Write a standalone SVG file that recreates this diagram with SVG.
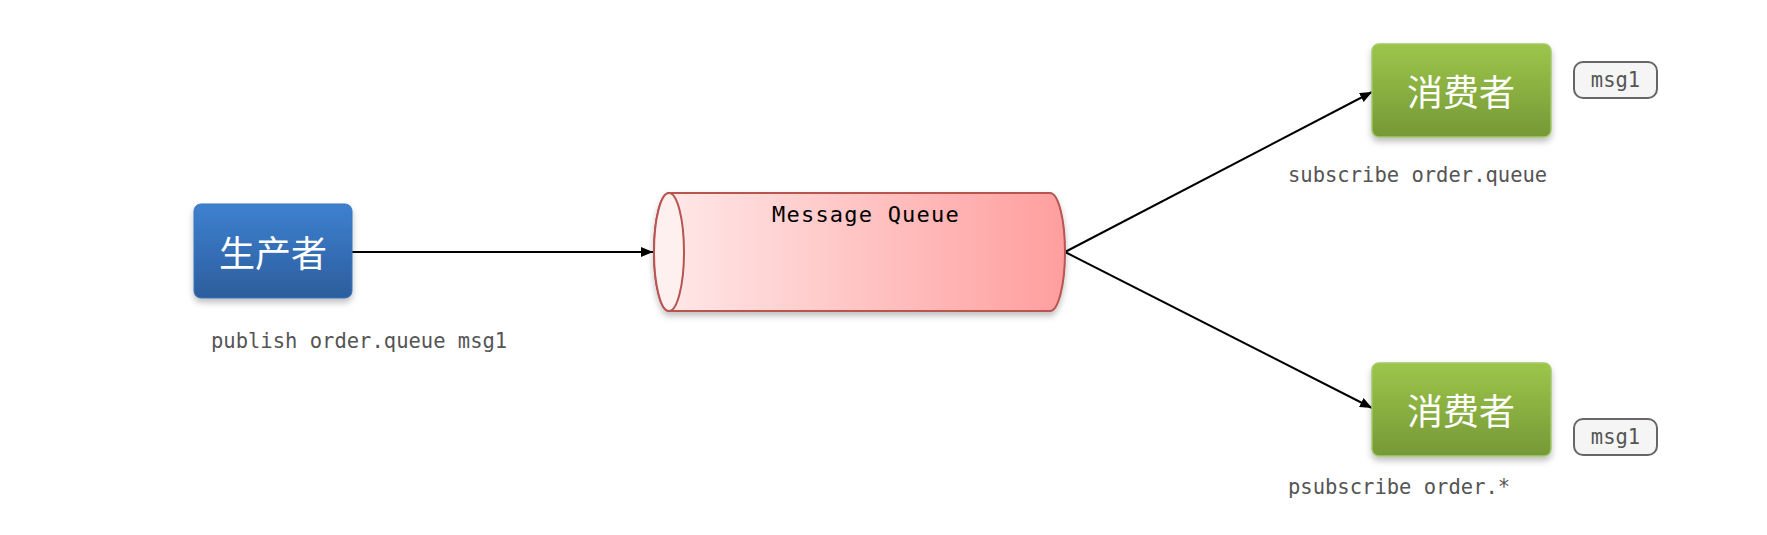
<svg xmlns="http://www.w3.org/2000/svg" width="1767" height="535" viewBox="0 0 1767 535">
<style>
.lbl{font-family:"DejaVu Sans Mono","Liberation Mono",monospace;font-size:20.5px;fill:#555}
.cn{font-family:"Noto Sans CJK SC","Noto Sans",sans-serif;font-size:36px;fill:#fff;text-anchor:middle;dominant-baseline:central}
.edge{stroke:#000;stroke-width:2;fill:none;marker-end:url(#arr)}
.tag{fill:#f5f5f5;stroke:#666;stroke-width:2}
</style>
<defs>
<linearGradient id="gBlue" x1="0" y1="0" x2="0" y2="1"><stop offset="0" stop-color="#3e80d0"/><stop offset="1" stop-color="#2c5e9d"/></linearGradient>
<linearGradient id="gGreen" x1="0" y1="0" x2="0" y2="1"><stop offset="0" stop-color="#9cc64a"/><stop offset="1" stop-color="#769837"/></linearGradient>
<linearGradient id="gRed" x1="0" y1="0" x2="1" y2="0"><stop offset="0" stop-color="#ffeaea"/><stop offset="1" stop-color="#ff9e9e"/></linearGradient>
<filter id="sh" x="-20%" y="-20%" width="140%" height="150%"><feDropShadow dx="0" dy="4" stdDeviation="3" flood-color="#000" flood-opacity="0.25"/></filter>
<marker id="arr" viewBox="0 0 12 10" refX="12" refY="5" markerWidth="12" markerHeight="10" markerUnits="userSpaceOnUse" orient="auto"><path d="M0,0 L12,5 L0,10 Z" fill="#000"/></marker>
</defs>
<g id="connectors">
<line class="edge" x1="352" y1="252" x2="653" y2="252"/>
<line class="edge" x1="1065" y1="252" x2="1372" y2="92"/>
<line class="edge" x1="1065" y1="252" x2="1372" y2="408"/>
</g>
<g id="producer">
<rect x="194" y="204" width="158" height="94" rx="7" fill="url(#gBlue)" stroke="#3a74bb" stroke-width="1" filter="url(#sh)"/>
<text class="cn" x="273" y="251">生产者</text>
<text class="lbl" x="211" y="348">publish order.queue msg1</text>
</g>
<g id="queue">
<path d="M669,193 L1050,193 A15,59 0 0 1 1050,311 L669,311 A15,59 0 0 1 669,193 Z" fill="url(#gRed)" stroke="#b85450" stroke-width="2" filter="url(#sh)"/>
<ellipse cx="669" cy="252" rx="15" ry="59" fill="#fff0f0" stroke="#b85450" stroke-width="2"/>
<text x="866" y="222" font-family="DejaVu Sans Mono,Liberation Mono,monospace" font-size="22" letter-spacing="1.2" text-anchor="middle" fill="#000">Message Queue</text>
</g>
<g id="consumer1">
<rect x="1372" y="44" width="179" height="93" rx="7" fill="url(#gGreen)" stroke="#a3c86a" stroke-width="1.5" filter="url(#sh)"/>
<text class="cn" x="1461" y="90">消费者</text>
<text class="lbl" x="1288" y="182">subscribe order.queue</text>
</g>
<g id="msg1a">
<rect class="tag" x="1574" y="62" width="83" height="36" rx="9"/>
<text class="lbl" x="1615.5" y="87" text-anchor="middle">msg1</text>
</g>
<g id="consumer2">
<rect x="1372" y="363" width="179" height="93" rx="7" fill="url(#gGreen)" stroke="#a3c86a" stroke-width="1.5" filter="url(#sh)"/>
<text class="cn" x="1461" y="409">消费者</text>
<text class="lbl" x="1288" y="494">psubscribe order.*</text>
</g>
<g id="msg1b">
<rect class="tag" x="1574" y="419" width="83" height="36" rx="9"/>
<text class="lbl" x="1615.5" y="444" text-anchor="middle">msg1</text>
</g>
</svg>
